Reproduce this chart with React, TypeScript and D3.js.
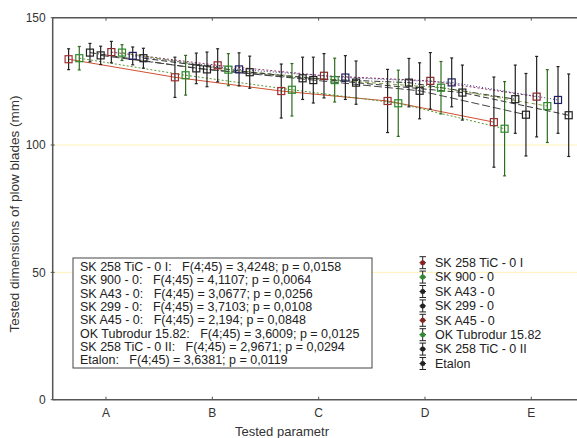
import React from "react";
import * as d3 from "d3";

// ---- data ----
const categories = ["A", "B", "C", "D", "E"];
const seriesNames = [
  "SK 258 TiC - 0 I",
  "SK 900 - 0",
  "SK A43 - 0",
  "SK 299 - 0",
  "SK A45 - 0",
  "OK Tubrodur 15.82",
  "SK 258 TiC - 0 II",
  "Etalon",
];
// means per series, categories A..E
const means = [
  [133.7, 126.6, 121.2, 117.3, 109.0],
  [134.1, 127.4, 121.7, 116.4, 106.4],
  [136.3, 130.1, 126.2, 124.5, 118.0],
  [135.2, 129.7, 125.5, 121.3, 111.9],
  [136.5, 131.3, 127.2, 125.2, 119.0],
  [136.3, 129.6, 125.5, 122.5, 115.3],
  [135.0, 129.7, 126.5, 124.6, 117.7],
  [134.1, 128.6, 124.5, 120.6, 111.7],
];
// half-width of the confidence interval
const errors = [
  [4.1, 7.9, 10.6, 12.4, 17.7],
  [4.6, 7.8, 10.3, 13.0, 18.5],
  [3.6, 6.0, 8.3, 9.5, 13.4],
  [3.6, 6.8, 9.0, 11.0, 16.2],
  [4.2, 6.5, 8.7, 11.1, 15.8],
  [3.1, 6.3, 8.6, 10.3, 14.3],
  [3.5, 6.5, 8.6, 9.6, 13.1],
  [3.9, 6.3, 8.5, 10.8, 16.2],
];
const statLines = [
  "SK 258 TiC - 0 I:   F(4;45) = 3,4248; p = 0,0158",
  "SK 900 - 0:   F(4;45) = 4,1107; p = 0,0064",
  "SK A43 - 0:   F(4;45) = 3,0677; p = 0,0256",
  "SK 299 - 0:   F(4;45) = 3,7103; p = 0,0108",
  "SK A45 - 0:   F(4;45) = 2,194; p = 0,0848",
  "OK Tubrodur 15.82:   F(4;45) = 3,6009; p = 0,0125",
  "SK 258 TiC - 0 II:   F(4;45) = 2,9671; p = 0,0294",
  "Etalon:   F(4;45) = 3,6381; p = 0,0119",
];
const yTicks = [0, 50, 100, 150];
const gridValues = [50, 100];

// ---- styles per series ----
const markerColors = ["#a03030", "#2e8b2e", "#222", "#222", "#8b2a2a", "#2e8b2e", "#202060", "#222"];
const barColors = ["#222", "#2e6b1e", "#222", "#222", "#222", "#2e6b1e", "#222", "#222"];
const lineColors = ["#d05030", "#5a9a3a", "#333", "#444", "#903060", "#80a040", "#404090", "#333"];
const lineDash = ["none", "2,2", "6,2,1,2", "8,3", "2,2", "4,3", "1,2", "6,3"];
const iconDot = ["#8b2020", "#2e8b2e", "#222", "#222", "#8b2020", "#2e8b2e", "#222", "#222"];

const W = 577;
const H = 438;
const left = 52.7;
const top = 17.7;
const bottom = 399.7;
const font = "'Liberation Sans', Arial, sans-serif";

export default function App() {
  const xTick = d3.scalePoint<string>().domain(categories).range([106, 531.3]);
  const xOff = d3.scalePoint<number>().domain(d3.range(seriesNames.length)).range([-37.4, 37.4]);
  const y = d3.scaleLinear().domain([0, 150]).range([bottom, top]);
  const px = (s: number, c: number) => (xTick(categories[c]) as number) + (xOff(s) as number);

  return (
    <svg
      width={W}
      height={H}
      style={{ position: "absolute", left: 0, top: 0, background: "#fff" }}
      fontFamily={font}
    >
      {/* grid lines */}
      {gridValues.map((g) => (
        <line key={g} x1={left} x2={W} y1={y(g)} y2={y(g)} stroke="#fff2b8" strokeWidth={1} />
      ))}

      {/* connecting lines */}
      {means.map((ms, s) => {
        const gen = d3
          .line<number>()
          .x((_, i) => px(s, i))
          .y((v) => y(v));
        return (
          <path
            key={"l" + s}
            d={gen(ms) || ""}
            fill="none"
            stroke={lineColors[s]}
            strokeWidth={1}
            strokeDasharray={lineDash[s]}
          />
        );
      })}

      {/* error bars */}
      {means.map((ms, s) =>
        ms.map((m, c) => {
          const x = px(s, c);
          const y1 = y(m + errors[s][c]);
          const y2 = y(m - errors[s][c]);
          return (
            <g key={`e${s}-${c}`} stroke={barColors[s]} strokeWidth={1.2}>
              <line x1={x} x2={x} y1={y1} y2={y2} />
              <line x1={x - 1.5} x2={x + 1.5} y1={y1} y2={y1} />
              <line x1={x - 1.5} x2={x + 1.5} y1={y2} y2={y2} />
            </g>
          );
        })
      )}

      {/* markers */}
      {means.map((ms, s) =>
        ms.map((m, c) => (
          <rect
            key={`m${s}-${c}`}
            x={px(s, c) - 3.5}
            y={y(m) - 3.5}
            width={7}
            height={7}
            fill="none"
            stroke={markerColors[s]}
            strokeWidth={1.2}
          />
        ))
      )}

      {/* axes frame */}
      <g stroke="#555" strokeWidth={1.5} fill="none">
        <line x1={left} x2={left} y1={top} y2={bottom} />
        <line x1={left} x2={W} y1={bottom} y2={bottom} />
        <line x1={left} x2={W} y1={top} y2={top} />
      </g>

      {/* y ticks */}
      {yTicks.map((t) => (
        <g key={"y" + t}>
          <line x1={left - 2} x2={left + 2} y1={y(t)} y2={y(t)} stroke="#555" />
          <text x={left - 7} y={y(t)} dy="0.35em" textAnchor="end" fontSize={12} fill="#333">
            {t}
          </text>
        </g>
      ))}

      {/* x ticks */}
      {categories.map((c) => (
        <g key={"x" + c}>
          <line x1={xTick(c)} x2={xTick(c)} y1={bottom} y2={bottom - 3} stroke="#555" />
          <line x1={xTick(c)} x2={xTick(c)} y1={top} y2={top + 3} stroke="#555" />
          <text x={xTick(c)} y={bottom + 17} textAnchor="middle" fontSize={12} fill="#333">
            {c}
          </text>
        </g>
      ))}

      {/* axis titles */}
      <text x={282} y={436} textAnchor="middle" fontSize={13} fill="#333">
        Tested parametr
      </text>
      <text
        transform={`translate(19,214) rotate(-90)`}
        textAnchor="middle"
        fontSize={13.5}
        fill="#333"
      >
        Tested dimensions of plow blades (mm)
      </text>

      {/* stats box */}
      <rect x={73} y={258} width={299} height={110} fill="#fff" stroke="#444" strokeWidth={1} />
      {statLines.map((t, i) => (
        <text key={"s" + i} x={80} y={271 + i * 13.3} fontSize={12.5} fill="#222" style={{ whiteSpace: "pre" }}>
          {t}
        </text>
      ))}

      {/* legend */}
      {seriesNames.map((n, i) => {
        const cy = 262.7 + i * 14.4;
        return (
          <g key={"lg" + i}>
            <g stroke="#222" strokeWidth={1}>
              <line x1={422.7} x2={422.7} y1={cy - 6} y2={cy + 6} />
              <line x1={419.5} x2={426} y1={cy - 6} y2={cy - 6} />
              <line x1={419.5} x2={426} y1={cy + 6} y2={cy + 6} />
              <line x1={419.5} x2={426} y1={cy} y2={cy} />
            </g>
            <circle cx={422.7} cy={cy} r={2.5} fill={iconDot[i]} />
            <text x={435} y={cy} dy="0.35em" fontSize={12.5} fill="#222">
              {n}
            </text>
          </g>
        );
      })}
    </svg>
  );
}
